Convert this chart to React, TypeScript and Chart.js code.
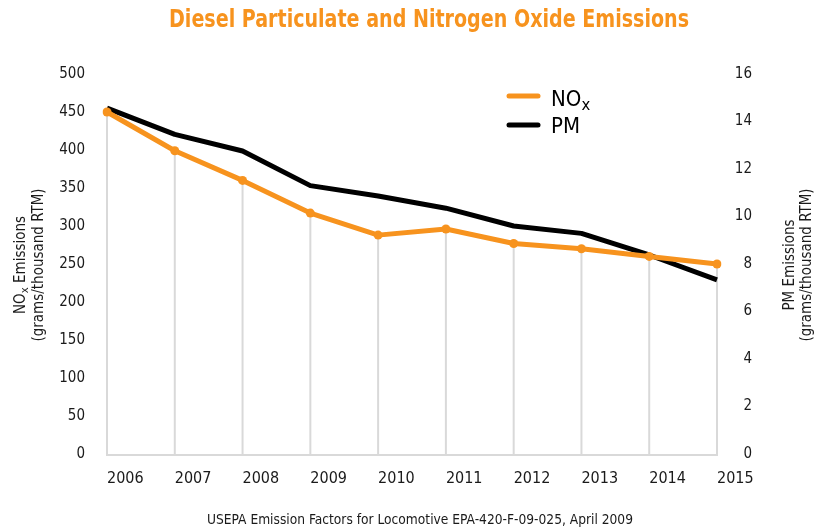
import React, { useEffect, useRef } from 'react';
import { Chart, registerables } from 'chart.js';

Chart.register(...registerables);

const years = ['2006', '2007', '2008', '2009', '2010', '2011', '2012', '2013', '2014', '2015'];
const noxValues = [450, 399, 360, 317, 288, 296, 277, 270, 260, 250];
const pmValues = [14.56, 13.46, 12.76, 11.3, 10.86, 10.35, 9.6, 9.29, 8.38, 7.33];
const seriesLabels = ['NO_x', 'PM'];
const noxAxisMax = 500;
const noxAxisStep = 50;
const pmAxisMax = 16;
const pmAxisStep = 2;
const chartTitle = 'Diesel Particulate and Nitrogen Oxide Emissions';
const leftTitle = ['NO_x Emissions', '(grams/thousand RTM)'];
const rightTitle = ['PM Emissions', '(grams/thousand RTM)'];
const sourceNote = 'USEPA Emission Factors for Locomotive EPA-420-F-09-025, April 2009';

const ORANGE = '#F7931E';
const BLACK = '#000000';
const GRID = '#d9d9d9';
const TEXT = '#1a1a1a';
const FONT = '"Liberation Sans Narrow", "DejaVu Sans Condensed", "Roboto", sans-serif';

type Part = { t: string; sub: boolean };
function richParts(s: string): Part[] {
  const parts: Part[] = [];
  let buf = '';
  for (let i = 0; i < s.length; i++) {
    if (s[i] === '_' && i + 1 < s.length) {
      if (buf) parts.push({ t: buf, sub: false });
      buf = '';
      parts.push({ t: s[i + 1], sub: true });
      i++;
    } else buf += s[i];
  }
  if (buf) parts.push({ t: buf, sub: false });
  return parts;
}

function drawRich(ctx: CanvasRenderingContext2D, s: string, x: number, y: number, size: number, align: 'left' | 'center', weight = 'normal') {
  const parts = richParts(s);
  const subSize = size * 0.75;
  const widths = parts.map((p) => {
    ctx.font = `${weight} ${p.sub ? subSize : size}px ${FONT}`;
    return ctx.measureText(p.t).width;
  });
  const total = widths.reduce((a, b) => a + b, 0);
  let cx = align === 'center' ? x - total / 2 : x;
  ctx.textAlign = 'left';
  ctx.textBaseline = 'middle';
  parts.forEach((p, i) => {
    ctx.font = `${weight} ${p.sub ? subSize : size}px ${FONT}`;
    ctx.fillText(p.t, cx, p.sub ? y + size * 0.28 : y);
    cx += widths[i];
  });
}

function drawFitted(ctx: CanvasRenderingContext2D, s: string, cx: number, cy: number, font: string, targetW: number) {
  ctx.font = font;
  const w = ctx.measureText(s).width;
  const sx = targetW / w;
  ctx.save();
  ctx.translate(cx, cy);
  ctx.scale(sx, 1);
  ctx.textAlign = 'center';
  ctx.textBaseline = 'middle';
  ctx.fillText(s, 0, 0);
  ctx.restore();
}

const dropLinePlugin = {
  id: 'dropLines',
  beforeDatasetsDraw(chart: any) {
    const ctx = chart.ctx as CanvasRenderingContext2D;
    const { left, right, bottom } = chart.chartArea;
    const meta = chart.getDatasetMeta(0);
    ctx.save();
    ctx.strokeStyle = GRID;
    ctx.lineWidth = 2;
    meta.data.forEach((pt: any) => {
      ctx.beginPath();
      ctx.moveTo(pt.x, pt.y);
      ctx.lineTo(pt.x, bottom + 2);
      ctx.stroke();
    });
    ctx.beginPath();
    ctx.moveTo(left - 1, bottom + 1);
    ctx.lineTo(right + 1, bottom + 1);
    ctx.stroke();
    ctx.restore();
  },
};

const textPlugin = {
  id: 'textDecor',
  afterDraw(chart: any) {
    const ctx = chart.ctx as CanvasRenderingContext2D;
    const midY = 265;
    ctx.save();

    // Title
    ctx.fillStyle = ORANGE;
    drawFitted(ctx, chartTitle, 429, 20, `bold 25px ${FONT}`, 520);

    // Source note
    ctx.fillStyle = TEXT;
    drawFitted(ctx, sourceNote, 420, 520, `13.5px ${FONT}`, 426);

    // Left axis title
    ctx.save();
    ctx.translate(21, midY);
    ctx.rotate(-Math.PI / 2);
    ctx.fillStyle = TEXT;
    drawRich(ctx, leftTitle[0], 0, 0, 15, 'center');
    drawRich(ctx, leftTitle[1], 0, 18, 15, 'center');
    ctx.restore();

    // Right axis title
    ctx.save();
    ctx.translate(790, midY);
    ctx.rotate(-Math.PI / 2);
    ctx.fillStyle = TEXT;
    drawRich(ctx, rightTitle[0], 0, 0, 15, 'center');
    drawRich(ctx, rightTitle[1], 0, 17, 15, 'center');
    ctx.restore();

    // Legend
    const lineYs = [96, 125];
    const textYs = [100, 127];
    chart.data.datasets.forEach((ds: any, i: number) => {
      ctx.strokeStyle = ds.borderColor;
      ctx.lineWidth = 5;
      ctx.lineCap = 'round';
      ctx.beginPath();
      ctx.moveTo(509, lineYs[i]);
      ctx.lineTo(538, lineYs[i]);
      ctx.stroke();
      ctx.fillStyle = BLACK;
      drawRich(ctx, seriesLabels[i], 551, textYs[i], 22, 'left');
    });
    ctx.restore();
  },
};

export default function App() {
  const ref = useRef<HTMLCanvasElement | null>(null);
  useEffect(() => {
    if (!ref.current) return;
    const chart = new Chart(ref.current, {
      type: 'line',
      data: {
        labels: years,
        datasets: [
          {
            label: seriesLabels[0],
            data: noxValues,
            yAxisID: 'yNox',
            borderColor: ORANGE,
            backgroundColor: ORANGE,
            borderWidth: 5,
            pointRadius: 4.5,
            pointBackgroundColor: ORANGE,
            pointBorderWidth: 0,
            borderJoinStyle: 'round',
            tension: 0,
          },
          {
            label: seriesLabels[1],
            data: pmValues,
            yAxisID: 'yPm',
            borderColor: BLACK,
            backgroundColor: BLACK,
            borderWidth: 5,
            pointRadius: 0,
            borderJoinStyle: 'round',
            tension: 0,
          },
        ],
      },
      options: {
        responsive: false,
        animation: false,
        devicePixelRatio: 1,
        layout: { padding: { top: 74, right: 64, left: 0, bottom: 0 } },
        plugins: { legend: { display: false }, title: { display: false }, tooltip: { enabled: false } },
        scales: {
          x: {
            offset: false,
            grid: { display: false, drawTicks: false },
            border: { display: false },
            ticks: { align: 'start', padding: 15, color: TEXT, font: { family: FONT, size: 16 }, maxRotation: 0, autoSkip: false },
            afterFit: (s: any) => { s.height = 77; },
          },
          yNox: {
            position: 'left',
            min: 0,
            max: noxAxisMax,
            grid: { display: false, drawTicks: false },
            border: { display: false },
            ticks: { stepSize: noxAxisStep, padding: 22, color: TEXT, font: { family: FONT, size: 15 } },
            afterFit: (s: any) => { s.width = 107; },
          },
          yPm: {
            position: 'right',
            min: 0,
            max: pmAxisMax,
            grid: { display: false, drawTicks: false },
            border: { display: false },
            ticks: { stepSize: pmAxisStep, crossAlign: 'far', color: TEXT, font: { family: FONT, size: 15 } },
            afterFit: (s: any) => { s.width = 35; },
          },
        },
      },
      plugins: [dropLinePlugin, textPlugin],
    } as any);
    return () => chart.destroy();
  }, []);
  return (
    <div style={{ position: 'fixed', left: 0, top: 0, width: 816, height: 531, background: '#fff' }}>
      <canvas ref={ref} width={816} height={531} style={{ display: 'block' }} />
    </div>
  );
}
